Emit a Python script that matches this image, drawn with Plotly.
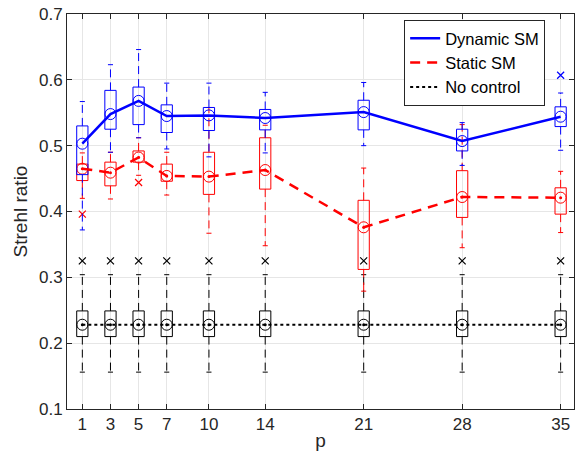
import plotly.graph_objects as go

# ---------------- data ----------------
p = [1, 3, 5, 7, 10, 14, 21, 28, 35]
x_ticks = [1, 3, 5, 7, 10, 14, 21, 28, 35]
y_ticks = [0.1, 0.2, 0.3, 0.4, 0.5, 0.6, 0.7]

dyn_med = [0.503, 0.548, 0.568, 0.545, 0.546, 0.542, 0.551, 0.507, 0.544]
dyn_q1 = [0.456, 0.525, 0.532, 0.520, 0.523, 0.524, 0.524, 0.492, 0.529]
dyn_q3 = [0.530, 0.584, 0.589, 0.562, 0.558, 0.555, 0.569, 0.525, 0.559]
dyn_lo = [0.372, 0.490, 0.512, 0.495, 0.483, 0.489, 0.500, 0.470, 0.493]
dyn_hi = [0.567, 0.623, 0.646, 0.595, 0.595, 0.581, 0.596, 0.535, 0.580]
dyn_out_x = [35]
dyn_out_y = [0.607]

sta_med = [0.465, 0.459, 0.482, 0.454, 0.453, 0.463, 0.376, 0.422, 0.421]
sta_q1 = [0.447, 0.439, 0.475, 0.446, 0.426, 0.434, 0.312, 0.391, 0.396]
sta_q3 = [0.472, 0.475, 0.492, 0.472, 0.490, 0.512, 0.417, 0.462, 0.436]
sta_lo = [0.420, 0.419, 0.455, 0.425, 0.367, 0.348, 0.279, 0.345, 0.368]
sta_hi = [0.489, 0.490, 0.512, 0.490, 0.558, 0.531, 0.466, 0.532, 0.461]
sta_out_x = [1, 5]
sta_out_y = [0.396, 0.444]

noc_med = [0.228] * 9
noc_q1 = [0.210] * 9
noc_q3 = [0.249] * 9
noc_lo = [0.156] * 9
noc_hi = [0.304] * 9
noc_out_x = p
noc_out_y = [0.325] * 9

BOX_HALF = 0.4
CAP_HALF = 0.18

fig = go.Figure()


def add_boxes(med, q1, q3, lo, hi, ox, oy, color, dot=True):
    bx, by = [], []
    for xi, a, b in zip(p, q1, q3):
        bx += [xi - BOX_HALF, xi + BOX_HALF, xi + BOX_HALF, xi - BOX_HALF, xi - BOX_HALF, None]
        by += [a, a, b, b, a, None]
    wx, wy = [], []
    cx, cy = [], []
    for xi, a, b, l, h in zip(p, q1, q3, lo, hi):
        wx += [xi, xi, None, xi, xi, None]
        wy += [b, h, None, a, l, None]
        cx += [xi - CAP_HALF, xi + CAP_HALF, None, xi - CAP_HALF, xi + CAP_HALF, None]
        cy += [h, h, None, l, l, None]
    fig.add_trace(go.Scatter(x=wx, y=wy, mode="lines", showlegend=False, hoverinfo="skip",
                             line=dict(color=color, width=1, dash="8px,5px")))
    fig.add_trace(go.Scatter(x=cx, y=cy, mode="lines", showlegend=False, hoverinfo="skip",
                             line=dict(color=color, width=1)))
    fig.add_trace(go.Scatter(x=bx, y=by, mode="lines", showlegend=False, hoverinfo="skip",
                             line=dict(color=color, width=1)))
    fig.add_trace(go.Scatter(x=p, y=med, mode="markers", showlegend=False, hoverinfo="skip",
                             marker=dict(symbol="circle-open", size=11, color=color,
                                         line=dict(width=1, color=color))))
    if dot:
        fig.add_trace(go.Scatter(x=p, y=med, mode="markers", showlegend=False, hoverinfo="skip",
                                 marker=dict(symbol="circle", size=3, color=color)))
    fig.add_trace(go.Scatter(x=ox, y=oy, mode="markers", showlegend=False, hoverinfo="skip",
                             marker=dict(symbol="x-thin-open", size=7, color=color,
                                         line=dict(width=1.2, color=color))))


add_boxes(noc_med, noc_q1, noc_q3, noc_lo, noc_hi, noc_out_x, noc_out_y, "black")
add_boxes(sta_med, sta_q1, sta_q3, sta_lo, sta_hi, sta_out_x, sta_out_y, "#ff0000")
add_boxes(dyn_med, dyn_q1, dyn_q3, dyn_lo, dyn_hi, dyn_out_x, dyn_out_y, "#0000ff", dot=False)

fig.add_trace(go.Scatter(x=p, y=dyn_med, mode="lines", name="Dynamic SM",
                         line=dict(color="#0000ff", width=2.5)))
fig.add_trace(go.Scatter(x=p, y=sta_med, mode="lines", name="Static SM",
                         line=dict(color="#ff0000", width=2.5, dash="10px,7px")))
fig.add_trace(go.Scatter(x=p, y=noc_med, mode="lines", name="No control",
                         line=dict(color="black", width=2, dash="dot")))

FONT = "Liberation Sans, Arial, sans-serif"
axis_common = dict(
    showline=True, linecolor="#262626", linewidth=1, mirror="ticks",
    ticks="inside", ticklen=5, tickcolor="#262626",
    showgrid=True, gridcolor="#e6e6e6", gridwidth=1, zeroline=False,
    automargin=False,
    tickfont=dict(family=FONT, size=17, color="#262626"),
)

fig.update_layout(
    width=578, height=470,
    margin=dict(l=67, r=4, t=14, b=61),
    plot_bgcolor="white", paper_bgcolor="white",
    font=dict(family=FONT, size=17, color="#262626"),
    xaxis=dict(range=[-0.09, 35.95], tickmode="array", tickvals=x_ticks,
               ticktext=[str(v) for v in x_ticks],
               title=dict(text="p", font=dict(size=19), standoff=0), **axis_common),
    yaxis=dict(range=[0.1, 0.7], tickmode="array", tickvals=y_ticks,
               ticktext=["%.1f" % v for v in y_ticks],
               title=dict(text="Strehl ratio", font=dict(size=19), standoff=6), **axis_common),
    legend=dict(x=0.665, y=0.985, xanchor="left", yanchor="top",
                bgcolor="white", bordercolor="#262626", borderwidth=1,
                font=dict(family=FONT, size=16.5, color="black"), tracegroupgap=0,
                itemwidth=30),
    showlegend=True,
)

fig.write_html("out.html",
               config={"displayModeBar": False},
               post_script="document.body.style.margin='0';document.body.style.overflow='hidden';")
